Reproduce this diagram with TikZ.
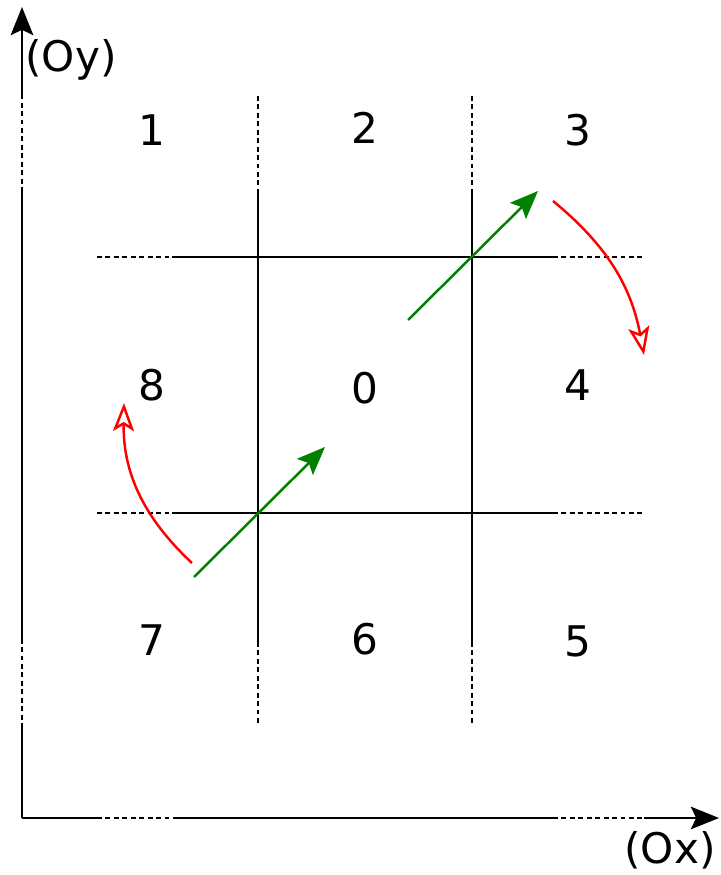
\documentclass[tikz,border=0pt]{standalone}
\usepackage{fontspec}
\setmainfont{DejaVu Sans}
\usepackage{xcolor}
\usetikzlibrary{arrows.meta}
\definecolor{movegreen}{RGB}{0,128,0}

\tikzset{
  dots/.style={dash pattern=on 1.4pt off 1pt},
  tip/.style={-{Stealth[length=8pt,width=6.4pt,inset=1.5pt]}},
  opentip/.style={-{Stealth[open,length=8pt,width=6pt,inset=1.8pt]}},
  num/.style={font=\fontsize{12}{15}\selectfont}
}

\begin{document}
\begin{tikzpicture}[x=0.01cm,y=0.01cm,line width=0.7pt]
  \useasboundingbox (0,0) rectangle (720,875);
  % axes
  \coordinate (O) at (22,57); \coordinate (xend) at (719,57); \coordinate (yend) at (22,868);
  \draw (O) -- (97,57); \draw[dots] (97,57) -- (173,57); \draw (173,57) -- (553,57); \draw[dots] (553,57) -- (644,57); \draw[tip] (644,57) -- (xend);
  \draw (O) -- (22,147); \draw[dots] (22,147) -- (22,233); \draw (22,233) -- (22,683); \draw[dots] (22,683) -- (22,780); \draw[tip] (22,780) -- (yend);
  \node[num] (ox) at (670,25) {(Ox)}; \node[num] (oy) at (71,815) {(Oy)};
  % grid
  \foreach \x in {258,472} { \draw[dots] (\x,779) -- (\x,683); \draw (\x,683) -- (\x,233); \draw[dots] (\x,233) -- (\x,150); }
  \foreach \y in {618,362} { \draw[dots] (97,\y) -- (172,\y); \draw (172,\y) -- (553,\y); \draw[dots] (553,\y) -- (643,\y); }
  \foreach \n/\x/\y in {1/152/745, 2/365/747, 3/578/745, 8/152/490, 0/365/487, 4/578/490, 7/152/235, 6/365/236, 5/578/234}
    \node[num] (r\n) at (\x,\y) {\n};
  % moves
  \coordinate (ga) at (194,298); \coordinate (gb) at (325,428); \coordinate (gc) at (408,555); \coordinate (gd) at (538,684);
  \draw[movegreen,tip] (ga) -- (gb); \draw[movegreen,tip] (gc) -- (gd);
  \coordinate (ra) at (192,312); \coordinate (rb) at (124,472); \coordinate (rc) at (553,674); \coordinate (rd) at (644,520);
  \draw[red,opentip] (ra) to[bend left=24] (rb); \draw[red,opentip] (rc) to[bend left=20] (rd);
\end{tikzpicture}
\end{document}
